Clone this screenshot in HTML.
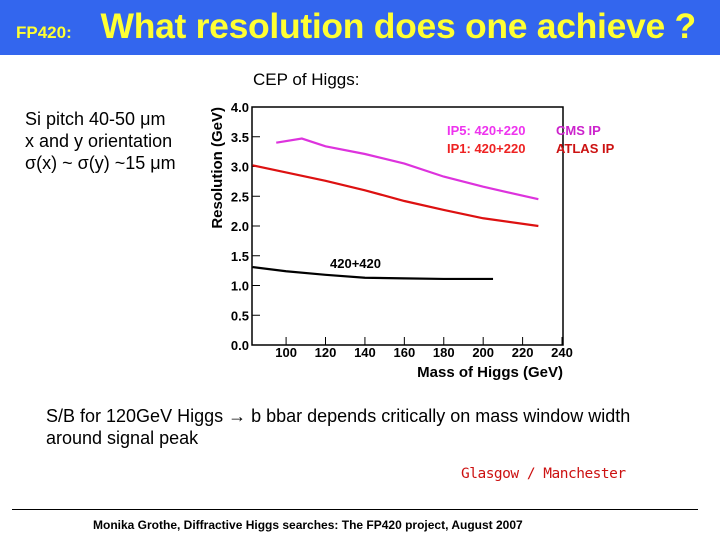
<!DOCTYPE html>
<html><head><meta charset="utf-8"><style>
body{margin:0;width:720px;height:540px;position:relative;background:#fff;font-family:"Liberation Sans",Arial,sans-serif;overflow:hidden}
.abs{position:absolute;white-space:nowrap}
</style></head><body>
<div class="abs" style="left:0;top:0;width:720px;height:55px;background:#3366ee"></div>
<div class="abs" style="left:16px;top:6px;color:#ffff33;font-weight:bold;"><span style="font-size:17px">FP420: </span><span style="font-size:35.5px;letter-spacing:-0.3px;margin-left:24px">What resolution does one achieve ?</span></div>
<div class="abs" style="left:253px;top:70px;font-size:17px">CEP of Higgs:</div>
<div class="abs" style="left:25px;top:108px;font-size:18px;line-height:22px">Si pitch 40-50 μm<br>x and y orientation<br>σ(x) ~ σ(y) ~15 μm</div>
<svg class="abs" style="left:0;top:0" width="720" height="400" id="chart"></svg>
<div class="abs" style="left:46px;top:405px;font-size:18px;line-height:22px">S/B for 120GeV Higgs → b bbar depends critically on mass window width<br>around signal peak</div>
<div class="abs" style="left:461px;top:466px;font-size:14.5px;color:#cc1111;font-family:'DejaVu Sans Mono',monospace;letter-spacing:-0.5px">Glasgow / Manchester</div>
<div class="abs" style="left:12px;top:509px;width:686px;height:1px;background:#000"></div>
<div class="abs" style="left:93px;top:518px;font-size:12px;font-weight:bold">Monika Grothe, Diffractive Higgs searches: The FP420 project, August 2007</div>
<script>
const massIP5=[95,108,120,140,160,180,200,228];
const resIP5=[3.40,3.47,3.34,3.21,3.05,2.83,2.66,2.45];
const massIP1=[83,100,120,140,160,180,200,228];
const resIP1=[3.02,2.90,2.76,2.60,2.42,2.27,2.13,2.00];
const mass420=[83,100,120,140,160,180,205];
const res420=[1.31,1.24,1.18,1.13,1.12,1.11,1.11];
const xTicks=[100,120,140,160,180,200,220,240];
const yTicks=[0,0.5,1,1.5,2,2.5,3,3.5,4];
const svg=document.getElementById('chart');
const NS='http://www.w3.org/2000/svg';
const X0=252,X1=563,Y0=345,Y1=107,XMIN=82.7,XMAX=240.5,YMAX=4;
const sx=v=>X0+(v-XMIN)/(XMAX-XMIN)*(X1-X0);
const sy=v=>Y0-v/YMAX*(Y0-Y1);
function mk(t,a,txt){const e=document.createElementNS(NS,t);for(const k in a)e.setAttribute(k,a[k]);if(txt!==undefined)e.textContent=txt;svg.appendChild(e);return e;}
const fr=mk('rect',{x:X0,y:Y1,width:X1-X0,height:Y0-Y1,fill:'none',stroke:'#000','stroke-width':1.5});


yTicks.forEach(v=>{const y=sy(v);
mk('line',{x1:X0,x2:X0+8,y1:y,y2:y,stroke:'#000'});
const t=mk('text',{x:X0-3,y:y+5,'text-anchor':'end','font-size':13,'font-weight':'bold'},v.toFixed(1));


});
xTicks.forEach(v=>{const x=sx(v);
mk('line',{x1:x,x2:x,y1:Y0,y2:Y0-8,stroke:'#000'});
const t=mk('text',{x:x,y:Y0+12,'text-anchor':'middle','font-size':13,'font-weight':'bold'},v);


});
const xt=mk('text',{x:X1,y:377,'text-anchor':'end','font-size':15,'font-weight':'bold'},'Mass of Higgs (GeV)');


const yt=mk('text',{x:0,y:0,'text-anchor':'end','font-size':15,'font-weight':'bold',transform:'translate(222,107) rotate(-90)'},'Resolution (GeV)');


function line(xs,ys,c,n){const p=mk('polyline',{points:xs.map((x,i)=>sx(x)+','+sy(ys[i])).join(' '),fill:'none',stroke:c,'stroke-width':2.2});

}
line(massIP5,resIP5,'#dd33dd','ip5-line');
line(massIP1,resIP1,'#dd1111','ip1-line');
line(mass420,res420,'#000','420-line');
const l1=mk('text',{x:447,y:135,'font-size':13,'font-weight':'bold',fill:'#ee33ee'},'IP5: 420+220');


const l2=mk('text',{x:447,y:153,'font-size':13,'font-weight':'bold',fill:'#ee2222'},'IP1: 420+220');


const l3=mk('text',{x:556,y:135,'font-size':13,'font-weight':'bold',fill:'#cc22cc'},'CMS IP');


const l4=mk('text',{x:556,y:153,'font-size':13,'font-weight':'bold',fill:'#cc1111'},'ATLAS IP');


const l5=mk('text',{x:330,y:268,'font-size':13,'font-weight':'bold'},'420+420');


</script>
</body></html>
